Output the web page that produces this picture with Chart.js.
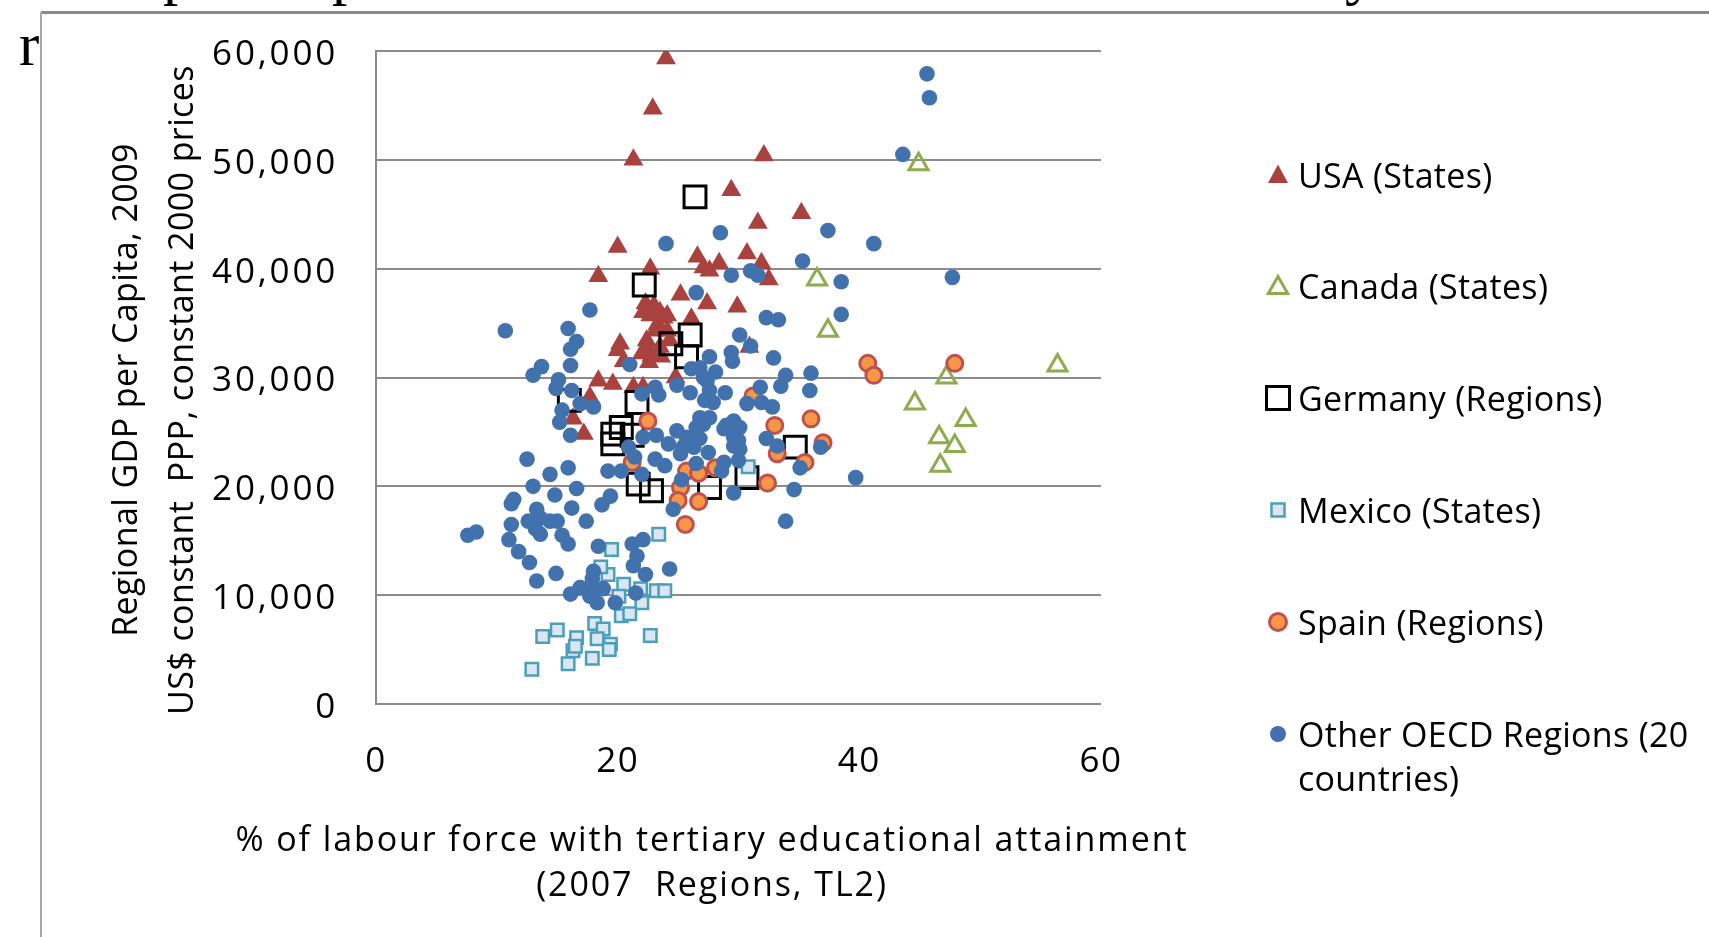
<!DOCTYPE html>
<html>
<head>
<meta charset="utf-8">
<script src="https://cdn.jsdelivr.net/npm/chart.js@4/dist/chart.umd.min.js"></script>
<style>
  html, body { margin: 0; padding: 0; background: #fff; }
  #wrap { position: relative; width: 1709px; height: 937px; overflow: hidden; background: #fff;
          font-family: "Open Sans", sans-serif; color: #000; }
  #chart { position: absolute; left: 0; top: 0; }
  .frame-top { position: absolute; left: 41px; top: 10.5px; width: 1668px; height: 3px; background: #8a8a8a; }
  .frame-left { position: absolute; left: 40px; top: 12px; width: 2px; height: 925px; background: #a8a8a8; }
  .serif { position: absolute; font-family: "Liberation Serif", "DejaVu Serif", serif; font-size: 61px; line-height: 61px; white-space: nowrap; }
  .ytitle { position: absolute; left: 152px; top: 390px; width: 760px; font-size: 34px; line-height: 56px;
            text-align: center; letter-spacing: 0.4px; white-space: nowrap;
            transform: translate(-50%, -50%) rotate(-90deg); }
  .xtitle { position: absolute; left: 712px; top: 861px; width: 1100px; font-size: 34px; line-height: 45px;
            text-align: center; letter-spacing: 1.9px; white-space: nowrap; transform: translate(-50%, -50%); }
  .leg { position: absolute; left: 1266px; font-size: 34px; line-height: 44px; letter-spacing: 0.3px; white-space: nowrap; }
  .leg svg { position: absolute; left: 0; top: 50%; transform: translateY(-50%); overflow: visible; }
  .leg span { display: block; margin-left: 32px; }
</style>
</head>
<body>
<div id="wrap">
  <div class="frame-top"></div>
  <div class="frame-left"></div>
  <div class="serif" style="left:163px; top:-58px;">p</div>
  <div class="serif" style="left:332px; top:-58px;">p</div>
  <div class="serif" style="left:1345px; top:-58px;">y</div>
  <div class="serif" style="left:19px; top:14px;">r</div>

  <canvas id="chart" width="1709" height="937"></canvas>

  <div class="ytitle">Regional GDP per Capita, 2009<br>US$ constant&nbsp; PPP, constant 2000 prices</div>
  <div class="xtitle">% of labour force with tertiary educational attainment<br>(2007&nbsp; Regions, TL2)</div>

  <div class="leg" style="top:153px;">
    <svg width="24" height="24" viewBox="-12 -12 24 24"><polygon points="0,-10.5 10,8 -10,8" fill="#a9423f"/></svg>
    <span>USA (States)</span>
  </div>
  <div class="leg" style="top:264px;">
    <svg width="24" height="24" viewBox="-12 -12 24 24"><polygon points="0,-9.5 9.7,7.5 -9.7,7.5" fill="none" stroke="#8cac4d" stroke-width="3"/></svg>
    <span>Canada (States)</span>
  </div>
  <div class="leg" style="top:376px;">
    <svg width="24" height="24" viewBox="-12 -12 24 24"><rect x="-11.5" y="-11.5" width="23" height="23" fill="none" stroke="#000" stroke-width="3"/></svg>
    <span>Germany (Regions)</span>
  </div>
  <div class="leg" style="top:488px;">
    <svg width="24" height="24" viewBox="-12 -12 24 24"><rect x="-6.5" y="-6.5" width="13" height="13" fill="#dce6f2" stroke="#4aa0b8" stroke-width="2.5"/></svg>
    <span>Mexico (States)</span>
  </div>
  <div class="leg" style="top:600px;">
    <svg width="24" height="24" viewBox="-12 -12 24 24"><circle cx="0" cy="0" r="8.5" fill="#f79646" stroke="#c0504d" stroke-width="3"/></svg>
    <span>Spain (Regions)</span>
  </div>
  <div class="leg" style="top:712px;">
    <svg width="24" height="24" viewBox="-12 -12 24 24" style="top:22px;"><circle cx="0" cy="0" r="8" fill="#4272ad"/></svg>
    <span>Other OECD Regions (20<br>countries)</span>
  </div>
</div>

<script>
// Share of the labour force with tertiary education (%) and regional GDP per capita (US$ PPP, 2000 prices)

const usaEdu = [24.0, 22.9, 21.3, 32.1, 29.4, 35.2, 31.6, 20.0, 18.4, 22.7, 26.6, 27.1, 27.6, 28.4, 30.7, 31.9, 32.5,
  25.2, 27.4, 29.9, 22.3, 23.0, 23.5, 24.1, 22.1, 22.7, 23.8, 26.1, 23.3, 20.2, 20.0, 20.5, 22.4, 22.5, 22.0, 22.8,
  23.6, 22.6, 23.5, 24.3, 23.1, 24.1, 18.4, 19.6, 24.8, 21.3, 22.1, 17.7, 16.3, 17.2, 30.9];
const usaGdp = [59300, 54700, 50000, 50400, 47200, 45100, 44200, 42000, 39300, 40000, 41100, 40100, 39800, 40500, 41400, 40500, 39000,
  37600, 36800, 36500, 36800, 36600, 36000, 35700, 36000, 35700, 35500, 35400, 34900, 33100, 32500, 31500, 33400, 32600, 32200, 32000,
  31900, 31400, 32800, 33400, 34300, 34300, 29700, 29400, 30000, 29100, 29100, 28200, 26200, 24800, 32800];

const canadaEdu = [44.9, 36.5, 37.4, 47.2, 56.4, 44.6, 48.8, 46.6, 47.9, 46.7];
const canadaGdp = [49600, 39000, 34300, 30000, 31100, 27600, 26100, 24500, 23700, 21900];

const germanyEdu = [26.4, 22.2, 24.4, 26.0, 25.7, 16.0, 21.6, 19.6, 20.3, 21.2, 19.6, 21.7, 22.8, 27.6, 30.7, 34.7];
const germanyGdp = [46600, 38500, 33100, 33900, 31900, 27900, 27700, 24800, 25400, 24700, 23900, 20200, 19600, 19900, 20800, 23600];

const mexicoEdu = [19.5, 23.4, 19.2, 20.5, 20.1, 21.9, 23.2, 23.9, 22.0, 20.3, 21.0, 18.1, 18.8, 18.3, 19.4, 19.3,
  16.6, 15.0, 13.8, 16.3, 17.9, 15.9, 12.9, 22.7, 30.8, 16.5, 18.6];
const mexicoGdp = [14200, 15600, 11900, 11000, 9900, 10600, 10400, 10400, 9300, 8100, 8300, 7400, 6900, 6000, 5500, 5000,
  6100, 6800, 6200, 4900, 4200, 3700, 3200, 6300, 21800, 5300, 12600];

const spainEdu = [22.5, 21.2, 25.7, 26.7, 28.1, 25.2, 25.0, 26.7, 25.6, 31.2, 36.0, 33.0, 37.0, 33.2, 35.5, 32.4, 40.7, 41.2, 47.9];
const spainGdp = [26000, 22200, 21400, 21200, 21700, 19900, 18700, 18600, 16500, 28300, 26200, 25600, 24000, 23000, 22200, 20300, 31300, 30200, 31300];

const otherEdu = [45.6, 45.8, 43.6, 28.5, 24.0, 37.4, 41.2, 29.4, 26.5, 31.0, 31.6, 35.3, 38.5, 47.7, 32.3, 33.3, 38.5,
  17.7, 10.7, 15.9, 16.6, 16.1, 16.1, 13.7, 13.0, 15.1, 14.9, 16.2, 16.9, 18.0, 15.4, 15.2, 16.1, 21.0,
  30.1, 31.0, 32.9, 27.6, 29.4, 29.5, 26.8, 28.1, 27.1, 33.9, 36.0, 33.5, 31.8, 35.9, 28.9, 27.6, 27.2, 27.9,
  30.7, 31.9, 32.8, 26.1, 24.9, 22.0, 23.1, 23.4, 26.0, 27.4, 29.6, 29.0, 26.8, 27.6, 27.1, 26.5, 28.8, 29.6,
  24.9, 25.7, 23.2, 24.2, 22.1, 20.9, 21.4, 23.1, 23.9, 25.2, 26.5, 28.8, 29.6, 27.5, 26.3, 25.4, 19.2, 20.3,
  22.0, 25.3, 24.6, 29.6, 30.1, 36.8, 32.3, 33.2, 30.1, 35.1, 34.6, 39.7, 33.9, 30.0, 29.4, 26.8, 30.0, 28.6,
  12.5, 15.9, 14.4, 13.0, 16.6, 14.8, 11.4, 11.2, 13.3, 16.2, 18.7, 19.4, 11.2, 12.6, 13.6, 14.4, 15.0, 13.2,
  13.6, 17.4, 7.6, 8.3, 11.0, 15.4, 15.9, 18.4, 21.2, 22.1, 11.8, 12.7, 13.3, 14.9, 21.6, 21.3, 24.3, 22.3,
  18.0, 17.9, 16.9, 16.1, 17.7, 18.3, 18.8, 18.1, 19.8, 21.5];
const otherGdp = [57900, 55700, 50500, 43300, 42300, 43500, 42300, 39400, 37800, 39800, 39400, 40700, 38800, 39200, 35500, 35300, 35800,
  36200, 34300, 34500, 33300, 32600, 31100, 31000, 30200, 29800, 29000, 28800, 27600, 27300, 27000, 25900, 24700, 31200,
  33900, 32900, 31800, 31900, 32300, 31500, 30900, 30500, 30000, 30200, 30400, 29200, 29100, 28800, 28600, 28800, 27900, 27700,
  27600, 27700, 27300, 30800, 29300, 28500, 29100, 28400, 28600, 29700, 26000, 25600, 26300, 26300, 25700, 25400, 25300, 24500,
  25100, 24500, 24700, 23900, 24500, 23600, 22700, 22500, 21900, 23000, 22100, 22200, 23700, 23100, 23600, 23600, 21400, 21400,
  21100, 20600, 17900, 19400, 25400, 23600, 24400, 23700, 23400, 21700, 19700, 20800, 16800, 24200, 25700, 24400, 22400, 21400,
  22500, 21700, 21100, 20000, 19800, 19200, 18800, 18400, 17900, 18000, 18300, 19100, 16500, 16800, 17100, 16800, 16800, 16100,
  15600, 16800, 15500, 15800, 15100, 15500, 14700, 14500, 14700, 15100, 14000, 13000, 11300, 12000, 13600, 12700, 12400, 11900,
  12200, 11500, 10700, 10100, 9900, 9300, 10600, 10600, 9300, 10200];

// Axis tick labels
const eduTicks = [0, 20, 40, 60];
const gdpTickLabels = ['0', '10,000', '20,000', '30,000', '40,000', '50,000', '60,000'];

const toPoints = (xs, ys) => xs.map((x, i) => ({ x: x, y: ys[i] }));

// Plot frame inside the canvas
const plotBox = { left: 376, right: 1101, top: 51, bottom: 704 };

// Pin the plotting area to the frame above
const framePlugin = {
  id: 'fixedFrame',
  afterLayout(chart) {
    const w = plotBox.right - plotBox.left, h = plotBox.bottom - plotBox.top;
    Object.assign(chart.chartArea, { left: plotBox.left, right: plotBox.right, top: plotBox.top,
                                     bottom: plotBox.bottom, width: w, height: h });
    const ys = chart.scales.y;
    ys.left = 0; ys.right = plotBox.left; ys.width = plotBox.left;
    ys.top = plotBox.top; ys.bottom = plotBox.bottom; ys.height = h;
    ys.configure();
    const xs = chart.scales.x;
    xs.left = plotBox.left; xs.right = plotBox.right; xs.width = w;
    xs.top = plotBox.bottom; xs.bottom = chart.height; xs.height = chart.height - plotBox.bottom;
    xs.configure();
  }
};

// Widened lettering for the tick labels (a bit more on the value axis)
const spacingPlugin = {
  id: 'tickSpacing',
  beforeDraw(chart) { chart.ctx.letterSpacing = '1.5px'; },
  afterDraw(chart) { chart.ctx.letterSpacing = '0px'; },
  afterLayout(chart) {
    const yScale = chart.scales.y;
    if (yScale && !yScale.__spaced) {
      const draw = yScale.drawLabels.bind(yScale);
      yScale.drawLabels = (area) => {
        const ctx = chart.ctx;
        const prev = ctx.letterSpacing;
        ctx.letterSpacing = '2.8px';
        draw(area);
        ctx.letterSpacing = prev;
      };
      yScale.__spaced = true;
    }
  }
};

const tickFont = { family: '"Open Sans", sans-serif', size: 35 };

const chart = new Chart(document.getElementById('chart'), {
  type: 'scatter',
  data: {
    datasets: [
      { label: 'USA (States)', data: toPoints(usaEdu, usaGdp), order: 5,
        pointStyle: 'triangle', pointRadius: 11.5, backgroundColor: '#a9423f', borderColor: '#a9423f', borderWidth: 0 },
      { label: 'Canada (States)', data: toPoints(canadaEdu, canadaGdp), order: 4,
        pointStyle: 'triangle', pointRadius: 11, backgroundColor: 'rgba(255,255,255,0)', borderColor: '#8cac4d', borderWidth: 3 },
      { label: 'Germany (Regions)', data: toPoints(germanyEdu, germanyGdp), order: 3,
        pointStyle: 'rect', pointRadius: 15.5, backgroundColor: 'rgba(255,255,255,0)', borderColor: '#000000', borderWidth: 3 },
      { label: 'Mexico (States)', data: toPoints(mexicoEdu, mexicoGdp), order: 2,
        pointStyle: 'rect', pointRadius: 8.8, backgroundColor: '#dce6f2', borderColor: '#4aa0b8', borderWidth: 2.5 },
      { label: 'Spain (Regions)', data: toPoints(spainEdu, spainGdp), order: 1,
        pointStyle: 'circle', pointRadius: 8, backgroundColor: '#f79646', borderColor: '#c0504d', borderWidth: 3 },
      { label: 'Other OECD Regions (20 countries)', data: toPoints(otherEdu, otherGdp), order: 0,
        pointStyle: 'circle', pointRadius: 7.8, backgroundColor: '#4272ad', borderColor: '#4272ad', borderWidth: 0 }
    ]
  },
  options: {
    responsive: false,
    animation: false,
    events: [],
    layout: { autoPadding: false, padding: { left: 0, right: 1709 - plotBox.right, top: plotBox.top, bottom: 0 } },
    plugins: { legend: { display: false }, tooltip: { enabled: false } },
    scales: {
      x: {
        type: 'linear', min: 0, max: 60,
        afterBuildTicks(scale) { scale.ticks = eduTicks.map(v => ({ value: v })); },
        afterFit(scale) { scale.height = 937 - plotBox.bottom; },
        ticks: { padding: 37, color: '#000', font: tickFont, maxRotation: 0 },
        grid: { display: false, drawTicks: false },
        border: { display: false }
      },
      y: {
        type: 'linear', min: 0, max: 60000,
        afterFit(scale) { scale.width = plotBox.left; },
        ticks: { stepSize: 10000, padding: 38, labelOffset: 4, color: '#000', font: tickFont,
                 callback: (value, index) => gdpTickLabels[index] },
        grid: { color: '#8b8b8b', lineWidth: 2, drawTicks: false },
        border: { display: true, color: '#8b8b8b', width: 2 }
      }
    }
  },
  plugins: [framePlugin, spacingPlugin]
});
</script>
</body>
</html>
